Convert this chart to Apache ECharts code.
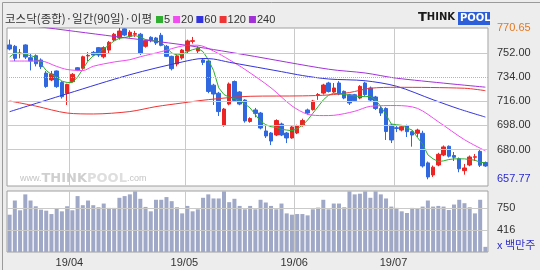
<!DOCTYPE html>
<html><head><meta charset="utf-8">
<script src="https://cdn.jsdelivr.net/npm/echarts@6/dist/echarts.min.js"></script>
<style>html,body{margin:0;padding:0;background:#ededed;}#c{width:540px;height:270px;}</style>
</head><body><div id="c"></div>
<script>
const dates = [
'19/03/14','19/03/15','19/03/18','19/03/19','19/03/20','19/03/21','19/03/22','19/03/25','19/03/26','19/03/27','19/03/28','19/03/29',
'19/04/01','19/04/02','19/04/03','19/04/04','19/04/05','19/04/08','19/04/09','19/04/10','19/04/11','19/04/12','19/04/15','19/04/16','19/04/17','19/04/18','19/04/19','19/04/22','19/04/23','19/04/24','19/04/25','19/04/26','19/04/29','19/04/30',
'19/05/02','19/05/03','19/05/07','19/05/08','19/05/09','19/05/10','19/05/13','19/05/14','19/05/15','19/05/16','19/05/17','19/05/20','19/05/21','19/05/22','19/05/23','19/05/24','19/05/27','19/05/28','19/05/29','19/05/30','19/05/31',
'19/06/03','19/06/04','19/06/05','19/06/07','19/06/10','19/06/11','19/06/12','19/06/13','19/06/14','19/06/17','19/06/18','19/06/19','19/06/20','19/06/21','19/06/24','19/06/25','19/06/26','19/06/27','19/06/28',
'19/07/01','19/07/02','19/07/03','19/07/04','19/07/05','19/07/08','19/07/09','19/07/10','19/07/11','19/07/12','19/07/15','19/07/16','19/07/17','19/07/18','19/07/19','19/07/22','19/07/23','19/07/24'];

const opens = [758,757,751.5,758,748.5,750,746.8,737,731.9,738.6,
730,721.9,730.6,741,740.6,749.8,752.5,756,749.2,754.2,
761.7,763.4,770,764.5,766,766,757,763.7,763.2,765.2,
757,749.5,743.8,748.3,753.5,760.7,753.5,746.8,746,728,
722,698.3,713.9,730.7,722.9,716.9,700.9,709.5,707.2,693.8,
692.3,690.8,699,692.3,688.6,692.3,697.9,709.5,709.8,720.7,
722.1,729.6,722.9,729.6,723.4,720.9,720.9,718.4,729.6,725.9,
719.2,710.6,710.6,698.3,696.2,694.5,697.5,693.3,692.1,692.1,
670,661,668.4,675.9,682.4,675.5,673.1,664.2,668.4,674.2,
678.6,670.3];
const closes = [755,748,752,749,746,744,741.8,727,736.3,726.9,
719.4,728.6,736.1,739.3,749.2,750.2,750.5,750.5,756,760,
766,768.4,765.4,767.5,766.5,752,761.2,761.2,759.5,757.7,
749.5,740.3,749.8,754.2,761,761.2,755.7,745,723.3,721.4,
708.3,710.2,728.9,716.6,713.9,701.3,703.1,706.9,696,690.1,
686.3,701.6,690.8,688.6,696.8,697.5,701.6,707.2,716.2,721,
728.1,723.3,725.9,721.4,718.4,714.7,716.4,727.1,720.9,716.9,
710.6,707.2,693.4,687.1,695.7,697,693.3,690.8,694.5,667.7,
659.5,666.8,676.4,681.9,675,674.2,665.6,666.2,674.4,674.6,
668.2,667.7];
const lows = [754,746,748,747.5,739,742,740,726,731,726,
718,713.2,730,738.5,740,746,749.5,749,748,752,
761,762,764.5,763.5,764,750.5,756,760,758,757,
749,739,742,747,752,759,752,743,722,713.2,
705,697,713,716,713,700,700,704,695,688.6,
683.3,690,690,684.8,688,691.5,697,706,709,717,
721,722.5,722,720.5,717.5,713.2,715.5,717.5,720,715.5,
709.5,705,687.1,684.8,693,693.5,689.3,682.1,689.3,666.5,
657.77,659.5,667.5,675,674,671.4,663,661.2,667.5,671.4,
666.9,667];
const highs = [762,758,755,758.5,752,751,748,738.5,738.6,739,
731,729,737,741.5,750,752.7,753.5,756.5,757,761,
767,770.65,770.3,769,768.5,767,762,764.5,764,767,
758,750,751,755,762,764,757,748,747,729,
723,711,730,731.5,723.5,717.5,704,711,708,697.5,
693,702.5,700,693,697.5,698.5,703,710.5,717,722.1,
729,730.5,729.6,731,724,721.5,721.5,728,730.5,727,
720,712.4,711.5,699,697.5,698,698.5,694,695.5,694,
671,668,677.5,683,683,678.1,674,669.2,675.5,676.6,
679.6,671];
const volumes = [647,862,714,955,862,775,724,708,657,739,
698,775,714,929,791,862,791,760,816,750,
750,903,929,955,1000,888,765,698,873,873,
914,852,760,667,780,698,729,903,955,893,
893,1000,837,888,780,729,780,729,873,832,
780,729,816,667,647,657,657,637,729,755,
873,729,816,816,760,1000,955,965,1000,903,
1000,955,893,770,750,698,673,750,739,770,
862,770,780,770,719,801,873,821,760,667,
873,160];

const ma5 = [749,752,752,751,750,749,744,739,736,734,
731,730,730,734,740,746,750,752,755,758,
761,763,763.5,764.5,765,764,762,761.5,761,760,
756,752,750.5,751,753,754.5,755.5,753,747,739,
726,721,719,718,716.5,714,711,706,701,698.5,
697,696.5,695,694.5,694,695.5,698,702,707,712,
717,720.5,722,721.5,721,720.5,720,719.5,719.5,719.5,
717,712,706,699,698.5,698,696,694.5,689,684,
676,673,671,671.5,672.5,673,673,673,672.5,672,
670.5,670];
const ma20 = [[0,746],[6,746],[9,742],[11,739.7],[14,738.9],[16,742.1],[20,745.3],[23,747],[25,749.2],[29,753],[33,757.2],[36,757.8],[39,753.5],[42,747],[45,739.8],[50,726],[54,712.5],[57,706.3],[60,705.3],[62,705.5],[66,708.5],[69,712.2],[74,712.8],[78,710.7],[82,700.7],[87,687.3],[91,679]];
const ma60 = [[0,708.2],[11,721.6],[23,735.8],[33,745.3],[37,747.9],[39,747.5],[42,745.1],[46,742.3],[52,738.1],[56,735.2],[61,732.6],[68,731.3],[74,727.2],[81,717.1],[86,710.2],[91,704.2]];
const ma120 = [[0,716.2],[5,712.4],[11,707.2],[16,706.5],[23,708.3],[28,712],[33,714.7],[38,717.2],[46,719.7],[56,720],[61,720.7],[65,722.5],[69,725.7],[74,726.4],[87,725.7],[91,723.9]];
const ma240 = [[0,774.5],[7,770.9],[22,763.4],[33,758.2],[45,750.7],[61,739.9],[68,737.1],[74,733.2],[91,726.5]];

const priceTicks = [752, 734, 716, 698, 680];
const priceMax = 770.65, priceMin = 657.77;
const volTicks = [750, 416];
const maNames = ['5','20','60','120','240'];
const maColors = ['#2fae2f','#f04cf0','#3434dc','#ee3434','#a232d8'];

const FONT = 'Liberation Sans';
const KFONT = 'Noto Sans CJK KR';
const isMonthStart = i => i > 0 && dates[i].slice(0,5) !== dates[i-1].slice(0,5);

const candleData = opens.map((o,i)=>[o, closes[i], lows[i], highs[i]]);
const ma5Data = ma5.map((v,i)=>[i,v]);

const priceLines = priceTicks.map(v => v === 734
  ? {yAxis: v, lineStyle: {type: 'dotted', color: '#b4b4b4'}}
  : {yAxis: v});
priceLines.push({yAxis: priceMax, lineStyle: {color: 'rgba(0,0,0,0)'}, label: {color: '#e3781e'}});
priceLines.push({yAxis: priceMin, lineStyle: {color: 'rgba(0,0,0,0)'}, label: {color: '#2a2ad0'}});

const chart = echarts.init(document.getElementById('c'), null, {renderer: 'canvas'});
chart.setOption({
  animation: false,
  backgroundColor: '#ededed',
  title: {text: '코스닥(종합)·일간(90일)·이평', left: 5, top: 13, padding: 0,
    textStyle: {fontSize: 11.5, fontWeight: 'normal', color: '#333', fontFamily: KFONT}},
  legend: {left: 156, top: 14, padding: 0, itemWidth: 7, itemHeight: 7, itemGap: 3, icon: 'rect',
    data: maNames, selectedMode: false,
    textStyle: {fontSize: 11, color: '#333', fontFamily: FONT, padding: [0,0,0,-4]}},
  grid: [
    {left: 7, top: 28, width: 481, height: 158, show: true, backgroundColor: '#fff', borderColor: '#a0a0a0', borderWidth: 1},
    {left: 7, top: 191, width: 481, height: 61, show: true, backgroundColor: '#fff', borderColor: '#a0a0a0', borderWidth: 1}
  ],
  xAxis: [
    {type: 'category', gridIndex: 0, data: dates, axisLine: {show: false}, axisTick: {show: false}, axisLabel: {show: false},
      splitLine: {show: true, interval: i => isMonthStart(i), lineStyle: {color: '#cacaca'}}},
    {type: 'category', gridIndex: 1, data: dates, axisLine: {show: false}, axisTick: {show: false},
      axisLabel: {show: true, interval: i => isMonthStart(i), formatter: v => v.slice(0,5), color: '#333', fontSize: 11, fontFamily: FONT, margin: 5, padding: [0,6,0,0]},
      splitLine: {show: true, interval: i => isMonthStart(i), lineStyle: {color: '#cacaca'}}}
  ],
  yAxis: [
    {type: 'value', gridIndex: 0, min: 652.75, max: 770.66, axisLine: {show: false}, axisTick: {show: false}, axisLabel: {show: false}, splitLine: {show: false}},
    {type: 'value', gridIndex: 1, min: 82, max: 1006, axisLine: {show: false}, axisTick: {show: false}, axisLabel: {show: false}, splitLine: {show: false}}
  ],
  series: [
    {type: 'line', xAxisIndex: 0, yAxisIndex: 0, data: [], z: 1, silent: true,
      markLine: {silent: true, symbol: 'none', animation: false,
        lineStyle: {color: '#cacaca', type: 'solid', width: 1},
        label: {position: 'end', distance: 9, formatter: p => Number(p.value).toFixed(2), color: '#333', fontSize: 11, fontFamily: FONT},
        data: priceLines}},
    {type: 'candlestick', name: 'KOSDAQ', xAxisIndex: 0, yAxisIndex: 0, data: candleData, barWidth: 4, z: 2, silent: true,
      itemStyle: {color: '#ec2424', color0: '#3068e0', borderColor: '#ec2424', borderColor0: '#3068e0', borderWidth: 1}},
    ...[ma5Data, ma20, ma60, ma120, ma240].map((d, k) => ({
      type: 'line', name: maNames[k], xAxisIndex: 0, yAxisIndex: 0, data: d, z: 3, silent: true,
      symbol: 'none', smooth: k > 0 ? 0.3 : false, color: maColors[k],
      lineStyle: {width: 1, color: maColors[k]}
    })),
    {type: 'line', xAxisIndex: 1, yAxisIndex: 1, data: [], z: 1, silent: true,
      markLine: {silent: true, symbol: 'none', animation: false,
        lineStyle: {color: '#cacaca', type: 'solid', width: 1},
        label: {position: 'end', distance: 9, formatter: p => String(p.value), color: '#333', fontSize: 11, fontFamily: FONT},
        data: volTicks.map(v => ({yAxis: v}))}},
    {type: 'bar', name: 'volume', xAxisIndex: 1, yAxisIndex: 1, data: volumes, barWidth: 4, z: 2, silent: true,
      itemStyle: {color: '#a0a8c7'}}
  ],
  graphic: [
    {type: 'rect', left: 0, top: 0, shape: {x: 0.5, y: 0.5, width: 539, height: 269}, style: {fill: 'none', stroke: '#9a9a9a', lineWidth: 1}, silent: true, z: 100},
    {type: 'text', left: 497, top: 239, style: {text: 'x 백만주', fill: '#2f2fc8', font: '11px "Noto Sans CJK KR"'}},
    {type: 'text', left: 418, top: 11, style: {rich: {
        a: {fontSize: 13, fontWeight: 'bold', fontFamily: 'DejaVu Sans', fill: '#1a1a1a'},
        b: {fontSize: 10, fontWeight: 'bold', fontFamily: 'DejaVu Sans', fill: '#1a1a1a'}},
      text: '{a|T}{b|HINK}'}},
    {type: 'rect', left: 458, top: 12, shape: {width: 32, height: 13}, style: {fill: '#2b5ed8'}},
    {type: 'text', left: 460, top: 13, style: {text: 'POOL', fill: '#ffffff', font: 'bold 10px "DejaVu Sans"'}},
    {type: 'text', left: 20, top: 172, z: 0, style: {rich: {
        s: {fontSize: 9, fontFamily: FONT, fill: '#c4c4c4'},
        t: {fontSize: 13, fontWeight: 'bold', fontFamily: 'DejaVu Sans', fill: '#cfcfcf'},
        p: {fontSize: 13, fontWeight: 'bold', fontFamily: 'DejaVu Sans', fill: '#dedede'}},
      text: '{s|www.}{t|THINK}{p|POOL}{s|.com}'}}
  ]
});
</script>
</body></html>
